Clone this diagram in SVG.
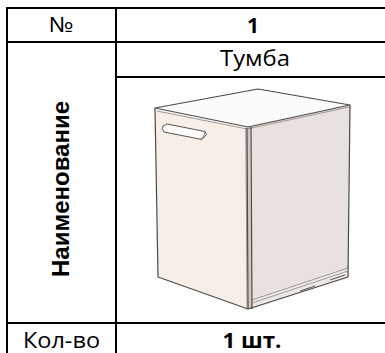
<svg xmlns="http://www.w3.org/2000/svg" width="385" height="353" viewBox="0 0 385 353">
<style>
  .grid line { stroke: #000; stroke-width: 2; }
  .txt { font-family: "Open Sans", "Noto Sans", "Liberation Sans", sans-serif; font-size: 21px; fill: #000; text-anchor: middle; }
  .b { font-weight: bold; }
  .vert { font-family: "Liberation Sans", Arial, sans-serif; font-size: 24px; font-weight: bold; fill: #000; text-anchor: middle; }
  .edge { fill: none; stroke: #4a4a4a; stroke-width: 1.2; stroke-linejoin: round; }
  .thin { fill: none; stroke: #8a8582; stroke-width: 0.8; }
</style>
<rect width="385" height="353" fill="#fff"/>
<g id="grid" class="grid">
  <line x1="6" y1="8" x2="385" y2="8"/>
  <line x1="6" y1="42" x2="385" y2="42"/>
  <line x1="116" y1="77" x2="385" y2="77"/>
  <line x1="6" y1="323" x2="385" y2="323"/>
  <line x1="7" y1="7" x2="7" y2="353"/>
  <line x1="116" y1="7" x2="116" y2="353"/>
</g>
<g id="connectors"/>
<g id="cell-no-label"><text class="txt" x="61" y="32" textLength="25" lengthAdjust="spacingAndGlyphs">№</text></g>
<g id="cell-no-value"><text class="txt b" x="253" y="33" font-size="22">1</text></g>
<g id="cell-name-label"><text class="vert" transform="translate(69,189) rotate(-90)">Наименование</text></g>
<g id="cell-name-value"><text class="txt" x="255" y="66" textLength="70" lengthAdjust="spacingAndGlyphs">Тумба</text></g>
<g id="cell-qty-label"><text class="txt" x="61.5" y="348" textLength="77" lengthAdjust="spacingAndGlyphs">Кол-во</text></g>
<g id="cell-qty-value"><text class="txt b" x="252" y="348" textLength="59" lengthAdjust="spacingAndGlyphs">1 шт.</text></g>
<g id="cabinet">
  <path d="M250,127 L350,105 L348,277 L252,309 Z" fill="#e8e1dd"/>
  <path d="M252,300 L348,268 L348,277 L252,309 Z" fill="#efe9e5"/>
  <line class="thin" x1="252" y1="300" x2="348" y2="268"/>
  <path d="M300,291 L315,286 M330,280 L345,275" stroke="#555" stroke-width="1" fill="none"/>
  <path d="M155,109 L247,128 L247,308 L158,277 Z" fill="#f7eee8"/>
  <path d="M245,128 L250,127 L252,309 L247,308 Z" fill="#cfc8c3"/>
  <path d="M155,108 L258,89 L350,105 L248,127 Z" fill="#fbfbfb"/>
  <path class="edge" d="M155,108 L258,89 L350,105 L248,127 Z" stroke-width="1.6"/>
  <path class="thin" d="M157,111 L247,129 L349,107" stroke="#555"/>
  <path class="edge" d="M155,108 L158,277 L248,309 L348,277 L350,105"/>
  <path class="edge" d="M247,128 L248,309 M251,127 L252,309"/>
  <path class="thin" d="M246,128 L247,308"/>
  <path class="thin" d="M252,303 L348,271"/>
  <path d="M167,124 L205,131.5 L206.5,134.5 L202,139.5 L164,132 Q161,128.5 163,126 Z" fill="#fdfcfb" stroke="#555" stroke-width="1"/>
  <path d="M201.5,139.5 L204.5,134.5 L205,131.5" fill="none" stroke="#555" stroke-width="0.8"/>
</g>
</svg>
